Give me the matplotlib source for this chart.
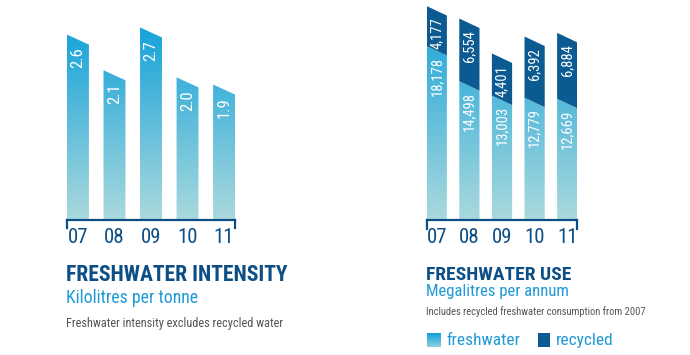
import numpy as np
import matplotlib
matplotlib.use("Agg")
import matplotlib.pyplot as plt
from matplotlib.patches import Polygon, Rectangle
from matplotlib.colors import LinearSegmentedColormap
from matplotlib.lines import Line2D

plt.rcParams['font.family'] = ['Roboto Condensed', 'Archivo Narrow', 'PT Sans Narrow',
                               'Liberation Sans Narrow', 'DejaVu Sans']

# ---------------- data ----------------
years = ["07", "08", "09", "10", "11"]
intensity = [2.6, 2.1, 2.7, 2.0, 1.9]
intensity_labels = ["2.6", "2.1", "2.7", "2.0", "1.9"]
freshwater = [18178, 14498, 13003, 12779, 12669]
recycled = [4177, 6554, 4401, 6392, 6884]

# ---------------- style ----------------
W, H = 690, 355
C_TOP = '#10a0d9'
C_BOT = '#aad9dd'
C_DARK = '#0c5a92'
C_TITLE = '#0d4e86'
C_SUB = '#1e9ad6'
C_GRAY = '#555555'
cmap = LinearSegmentedColormap.from_list('fw', [C_BOT, C_TOP])

fig = plt.figure(figsize=(W / 100, H / 100), dpi=100)
fig.patch.set_facecolor('white')


def px_axes(x0, y_top, w, h):
    return fig.add_axes([x0 / W, 1 - (y_top + h) / H, w / W, h / H])


def setup_axis(ax, ymax):
    ax.set_xlim(-0.3, 4.3)
    ax.set_ylim(0, ymax)
    for s in ['top', 'right', 'left']:
        ax.spines[s].set_visible(False)
    ax.spines['bottom'].set_color(C_TITLE)
    ax.spines['bottom'].set_linewidth(1.6)
    ax.set_yticks([])
    ax.set_xticks(range(len(years)))
    ax.set_xticklabels(years, fontsize=15, color=C_TITLE)
    ax.tick_params(axis='x', length=0, pad=6)
    ax.patch.set_alpha(0)
    for xe in (0, 1):
        ax.add_line(Line2D([xe, xe], [0, -0.04], transform=ax.transAxes,
                           color=C_TITLE, lw=1.6, clip_on=False))


def gradient_fill(ax, pts, ymax):
    poly = Polygon(pts, closed=True, facecolor='none', edgecolor='none')
    ax.add_patch(poly)
    grad = np.linspace(0, 1, 256).reshape(-1, 1)
    im = ax.imshow(grad, cmap=cmap, origin='lower', aspect='auto',
                   extent=[-0.3, 4.3, 0, ymax], interpolation='bilinear', zorder=1)
    im.set_clip_path(poly)


# ---------------- left chart ----------------
axL = px_axes(67, 20, 168, 200)
ymaxL = 200 / 71.3
setup_axis(axL, ymaxL)
slantL = 10 / 200 * ymaxL
for i, v in enumerate(intensity):
    pts = [(i - 0.3, 0), (i + 0.3, 0), (i + 0.3, v - slantL), (i - 0.3, v)]
    gradient_fill(axL, pts, ymaxL)
    axL.text(i, v - slantL - 0.04, intensity_labels[i], rotation=90, ha='center', va='top',
             color='white', fontsize=12, zorder=3)
axL.set_ylim(0, ymaxL)
axL.set_xlim(-0.3, 4.3)

# ---------------- right chart ----------------
axR = px_axes(427, 0, 150, 220)
ymaxR = 220 / 9.57 * 1000
setup_axis(axR, ymaxR)
slantR = 9.5 / 220 * ymaxR
hw = 0.31
for i, (f, r) in enumerate(zip(freshwater, recycled)):
    pts_f = [(i - hw, 0), (i + hw, 0), (i + hw, f - slantR), (i - hw, f)]
    gradient_fill(axR, pts_f, ymaxR)
    t = f + r
    pts_r = [(i - hw, f), (i + hw, f - slantR), (i + hw, t - slantR), (i - hw, t)]
    axR.add_patch(Polygon(pts_r, closed=True, facecolor=C_DARK, edgecolor='none', zorder=2))
    axR.text(i, f - slantR - 120, f"{f:,}", rotation=90, ha='center', va='top',
             color='white', fontsize=10.5, zorder=3)
    axR.text(i, t - slantR - 200, f"{r:,}", rotation=90, ha='center', va='top',
             color='white', fontsize=10.5, zorder=3)
axR.set_ylim(0, ymaxR)
axR.set_xlim(-0.3, 4.3)

# ---------------- texts ----------------
def ftext(x, y, s, **kw):
    fig.text(x / W, 1 - y / H, s, va='baseline', **kw)

ftext(65.5, 281, "FRESHWATER INTENSITY", fontsize=15.6, fontweight='bold', color=C_TITLE)
ftext(66, 303, "Kilolitres per tonne", fontsize=12.8, color=C_SUB)
ftext(66, 326.5, "Freshwater intensity excludes recycled water", fontsize=8.8, color=C_GRAY)

ftext(425.5, 280, "FRESHWATER USE", fontsize=14, fontweight='bold', color=C_TITLE)
ftext(426, 296, "Megalitres per annum", fontsize=12, color=C_SUB)
ftext(426, 315, "Includes recycled freshwater consumption from 2007", fontsize=7.6, color=C_GRAY)

# legend
axLg = px_axes(427, 333, 13, 14)
axLg.imshow(np.linspace(0, 1, 64).reshape(-1, 1),
            cmap=LinearSegmentedColormap.from_list('lg', ['#8fd0e0', C_TOP]),
            origin='lower', aspect='auto', extent=[0, 1, 0, 1])
axLg.axis('off')
fig.add_artist(Rectangle((538 / W, 1 - 347 / H), 12 / W, 14 / H, transform=fig.transFigure,
                         facecolor=C_DARK, edgecolor='none'))
ftext(446, 345, "freshwater", fontsize=12.5, color=C_SUB)
ftext(556, 345, "recycled", fontsize=12.5, color=C_SUB)

fig.savefig("out.png", dpi=100, facecolor='white')
